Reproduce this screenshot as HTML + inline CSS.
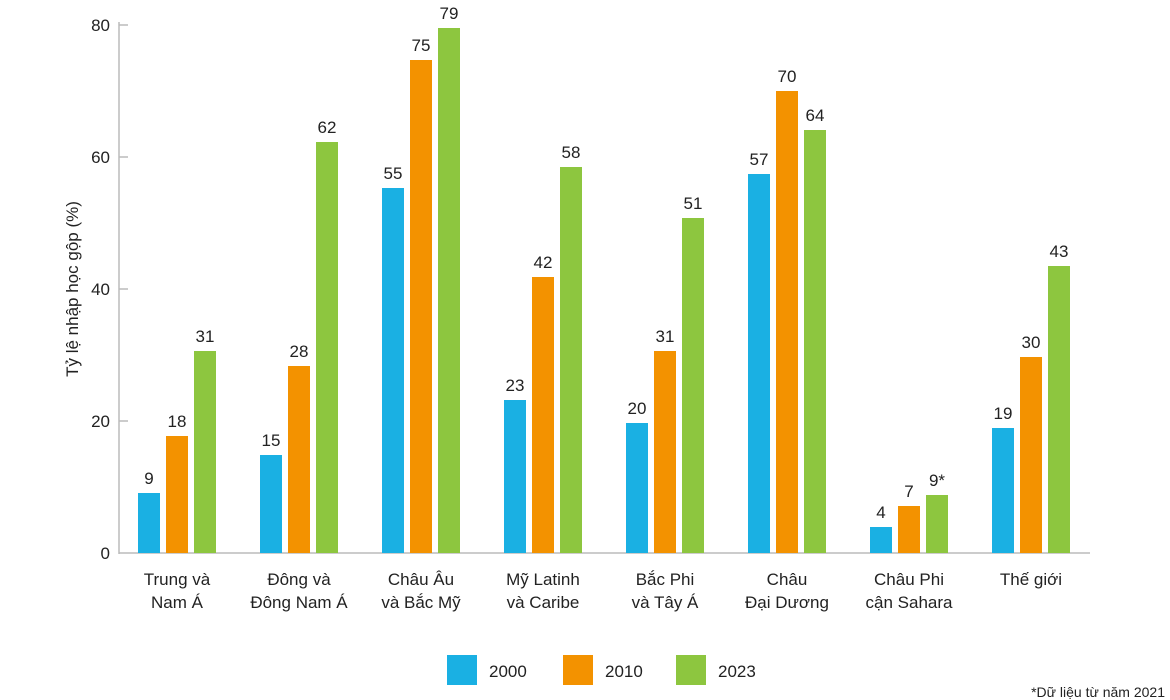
<!DOCTYPE html>
<html><head><meta charset="utf-8"><style>
html,body{margin:0;padding:0;background:#fff;}
svg{display:block;font-family:"Liberation Sans","DejaVu Sans",sans-serif;}
</style></head><body>
<svg width="1170" height="700" viewBox="0 0 1170 700">
<g stroke="#bbb" stroke-width="1.5">
<line x1="119" y1="22" x2="119" y2="554"/>
<line x1="119" y1="553" x2="1090" y2="553"/>
<line x1="119" y1="25" x2="128" y2="25"/>
<line x1="119" y1="157" x2="128" y2="157"/>
<line x1="119" y1="289" x2="128" y2="289"/>
<line x1="119" y1="421" x2="128" y2="421"/>
</g>
<g font-size="17" fill="#222" text-anchor="end">
<text x="110" y="31">80</text><text x="110" y="163">60</text><text x="110" y="295">40</text><text x="110" y="427">20</text><text x="110" y="559">0</text>
</g>
<text transform="translate(78,289) rotate(-90)" font-size="17" fill="#222" text-anchor="middle">Tỷ lệ nhập học gộp (%)</text>
<g fill="#1ab0e3">
<rect x="138" y="493" width="22" height="60"/>
<rect x="260" y="455" width="22" height="98"/>
<rect x="382" y="188" width="22" height="365"/>
<rect x="504" y="400" width="22" height="153"/>
<rect x="626" y="423" width="22" height="130"/>
<rect x="748" y="174" width="22" height="379"/>
<rect x="870" y="527" width="22" height="26"/>
<rect x="992" y="428" width="22" height="125"/>
</g>
<g fill="#f39200">
<rect x="166" y="436" width="22" height="117"/>
<rect x="288" y="366" width="22" height="187"/>
<rect x="410" y="60" width="22" height="493"/>
<rect x="532" y="277" width="22" height="276"/>
<rect x="654" y="351" width="22" height="202"/>
<rect x="776" y="91" width="22" height="462"/>
<rect x="898" y="506" width="22" height="47"/>
<rect x="1020" y="357" width="22" height="196"/>
</g>
<g fill="#8dc63f">
<rect x="194" y="351" width="22" height="202"/>
<rect x="316" y="142" width="22" height="411"/>
<rect x="438" y="28" width="22" height="525"/>
<rect x="560" y="167" width="22" height="386"/>
<rect x="682" y="218" width="22" height="335"/>
<rect x="804" y="130" width="22" height="423"/>
<rect x="926" y="495" width="22" height="58"/>
<rect x="1048" y="266" width="22" height="287"/>
</g>
<g font-size="17" fill="#222" text-anchor="middle">
<text x="149" y="484">9</text><text x="177" y="427">18</text><text x="205" y="342">31</text>
<text x="271" y="446">15</text><text x="299" y="357">28</text><text x="327" y="133">62</text>
<text x="393" y="179">55</text><text x="421" y="51">75</text><text x="449" y="19">79</text>
<text x="515" y="391">23</text><text x="543" y="268">42</text><text x="571" y="158">58</text>
<text x="637" y="414">20</text><text x="665" y="342">31</text><text x="693" y="209">51</text>
<text x="759" y="165">57</text><text x="787" y="82">70</text><text x="815" y="121">64</text>
<text x="881" y="518">4</text><text x="909" y="497">7</text><text x="937" y="486">9*</text>
<text x="1003" y="419">19</text><text x="1031" y="348">30</text><text x="1059" y="257">43</text>
</g>
<g font-size="17" fill="#222" text-anchor="middle">
<text x="177" y="585">Trung và</text><text x="177" y="608">Nam Á</text>
<text x="299" y="585">Đông và</text><text x="299" y="608">Đông Nam Á</text>
<text x="421" y="585">Châu Âu</text><text x="421" y="608">và Bắc Mỹ</text>
<text x="543" y="585">Mỹ Latinh</text><text x="543" y="608">và Caribe</text>
<text x="665" y="585">Bắc Phi</text><text x="665" y="608">và Tây Á</text>
<text x="787" y="585">Châu</text><text x="787" y="608">Đại Dương</text>
<text x="909" y="585">Châu Phi</text><text x="909" y="608">cận Sahara</text>
<text x="1031" y="585">Thế giới</text>
</g>
<rect x="447" y="655" width="30" height="30" fill="#1ab0e3"/>
<text x="489" y="677" font-size="17" fill="#222">2000</text>
<rect x="563" y="655" width="30" height="30" fill="#f39200"/>
<text x="605" y="677" font-size="17" fill="#222">2010</text>
<rect x="676" y="655" width="30" height="30" fill="#8dc63f"/>
<text x="718" y="677" font-size="17" fill="#222">2023</text>
<text x="1165" y="697" font-size="14" fill="#222" text-anchor="end">*Dữ liệu từ năm 2021</text>
</svg>
</body></html>
